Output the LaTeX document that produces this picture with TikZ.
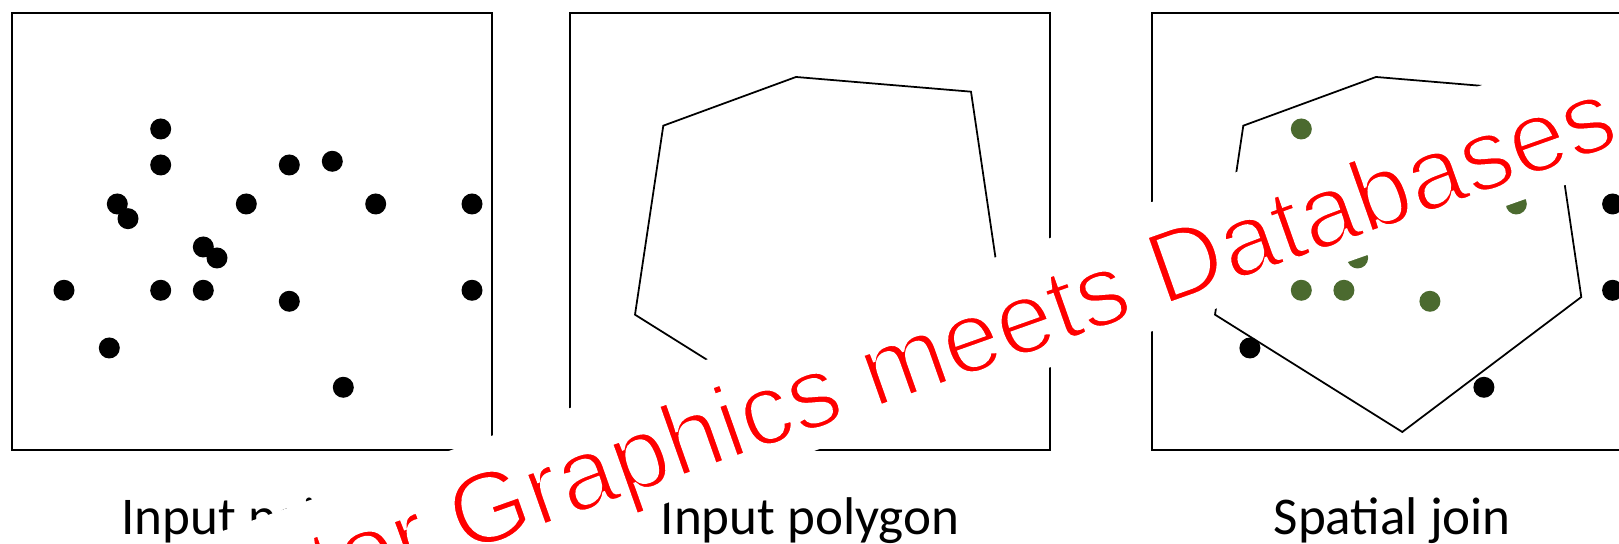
\documentclass[tikz,border=0pt]{standalone}
\usepackage{fontspec}
\setmainfont{Carlito}
\newfontfamily\bannerfont{Liberation Sans}
\definecolor{joingreen}{HTML}{4B6A2F}
% thinner strokes for the banner text: fill, then a white outline on top
\newcommand\thintext[1]{\special{pdf:literal direct 2 Tr 0.8 w 1 1 1 RG}#1\special{pdf:literal direct 0 Tr}}
\begin{document}
\begin{tikzpicture}[
  frame/.style={line width=0.6pt},
  poly/.style={line width=0.5pt, line join=miter},
  caption/.style={anchor=base, font=\fontsize{15.1}{18}\selectfont},
  banner/.style={fill=white, text=red, inner sep=0pt, rotate=19.5,
    text height=1.015cm, text depth=0.204cm,
    font=\bannerfont\fontsize{29}{34}\selectfont}
]
\useasboundingbox (0,0) rectangle (16.19,5.44);
% the three frames
\foreach \x in {0.117,5.70,11.523}
  \draw[frame] (\x,0.943) rectangle ++(4.8,4.37);
% input points
\foreach \p in {(1.607,4.15),(1.607,3.79),(2.893,3.79),(3.323,3.827),(1.173,3.40),
  (1.28,3.253),(2.463,3.40),(3.757,3.40),(4.72,3.40),(2.033,2.97),(2.17,2.86),
  (0.64,2.537),(1.607,2.537),(2.033,2.537),(2.893,2.427),(4.72,2.537),
  (1.093,1.96),(3.433,1.567)}
  \fill \p circle (0.105);
% input polygon, and again for the join
\foreach \s in {0,5.8}
  \draw[poly,xshift=\s cm] (6.633,4.183) -- (7.96,4.67) -- (9.71,4.523)
    -- (10.013,2.47) -- (8.223,1.12) -- (6.35,2.293) -- cycle;
% spatial join: inside green, outside black
\begin{scope}[xshift=11.406cm]
\foreach \p in {(1.607,4.15),(1.607,3.79),(2.893,3.79),(3.323,3.827),(1.173,3.40),
  (1.28,3.253),(2.463,3.40),(3.757,3.40),(2.033,2.97),(2.17,2.86),
  (1.607,2.537),(2.033,2.537),(2.893,2.427)}
  \fill[joingreen] \p circle (0.105);
\foreach \p in {(4.72,3.40),(0.64,2.537),(4.72,2.537),(1.093,1.96),(3.433,1.567)}
  \fill \p circle (0.105);
\end{scope}
\node[caption] (lblpts) at (2.517,0.093) {Input points};
\node[caption] (lblpoly) at (8.10,0.093) {Input polygon};
\node[caption] (lbljoin) at (13.923,0.093) {Spatial join};
\node[banner, anchor=base east] (title) at (16.226,4.01) {\thintext{Vector Graphics meets Databases}};
\end{tikzpicture}
\end{document}
